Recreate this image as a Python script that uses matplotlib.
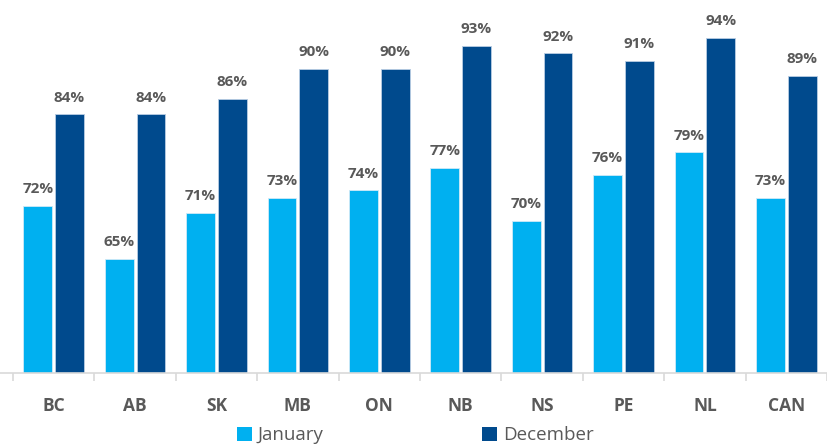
import matplotlib
matplotlib.use("Agg")
import matplotlib.pyplot as plt
import numpy as np

categories = ["BC", "AB", "SK", "MB", "ON", "NB", "NS", "PE", "NL", "CAN"]
january = [72, 65, 71, 73, 74, 77, 70, 76, 79, 73]
december = [84, 84, 86, 90, 90, 93, 92, 91, 94, 89]
series_names = ["January", "December"]

c_jan = "#00B0F0"
c_dec = "#004A8D"
gray = "#595959"

plt.rcParams["font.family"] = ["Open Sans", "DejaVu Sans"]

fig = plt.figure(figsize=(8.27, 4.45), dpi=100)
ax = fig.add_axes([0, 1 - 373 / 445, 1, 373 / 445])

x = np.arange(len(categories))
w = 29 / 82
gap = 3 / 82
b1 = ax.bar(x - (w + gap) / 2, [v - 50 for v in january], w, bottom=50, color=c_jan,
            edgecolor="#CFE9F7", linewidth=0.6, label=series_names[0])
b2 = ax.bar(x + (w + gap) / 2, [v - 50 for v in december], w, bottom=50, color=c_dec,
            edgecolor="#B9CDE3", linewidth=0.6, label=series_names[1])

for bars, vals in ((b1, january), (b2, december)):
    for r, v in zip(bars, vals):
        ax.annotate(f"{v}%", (r.get_x() + r.get_width() / 2, v), xytext=(0, 7),
                    textcoords="offset points", ha="center", va="bottom",
                    fontsize=11, fontweight="bold", color=gray)

ax.set_xlim(-0.5 - 13 / 82, -0.5 + 814 / 82)
ax.set_ylim(50, 50 + 373 / 7.61)

for s in ["top", "right", "left"]:
    ax.spines[s].set_visible(False)
ax.spines["bottom"].set_color("#D9D9D9")
ax.spines["bottom"].set_linewidth(1.2)
ax.set_yticks([])
ax.set_xticks(np.arange(-0.5, len(categories) + 0.5, 1))
ax.set_xticklabels([])
ax.set_xticks(x, minor=True)
ax.set_xticklabels(categories, minor=True)
ax.tick_params(axis="x", which="major", length=6, color="#D9D9D9", width=1.2)
ax.tick_params(axis="x", which="minor", length=0, pad=17, labelsize=12.5,
               labelcolor=gray)
for t in ax.get_xticklabels(minor=True):
    t.set_fontweight("bold")

leg = fig.legend(handles=[b1, b2], labels=series_names, loc="center",
                 bbox_to_anchor=(0.502, 0.022), ncol=2, frameon=False,
                 fontsize=13.5, handlelength=0.8, handleheight=0.8,
                 handletextpad=0.3, columnspacing=8.5, labelcolor=gray,
                 borderaxespad=0)
for h in leg.legend_handles:
    h.set_edgecolor("none")

fig.savefig("out.png", dpi=100)
